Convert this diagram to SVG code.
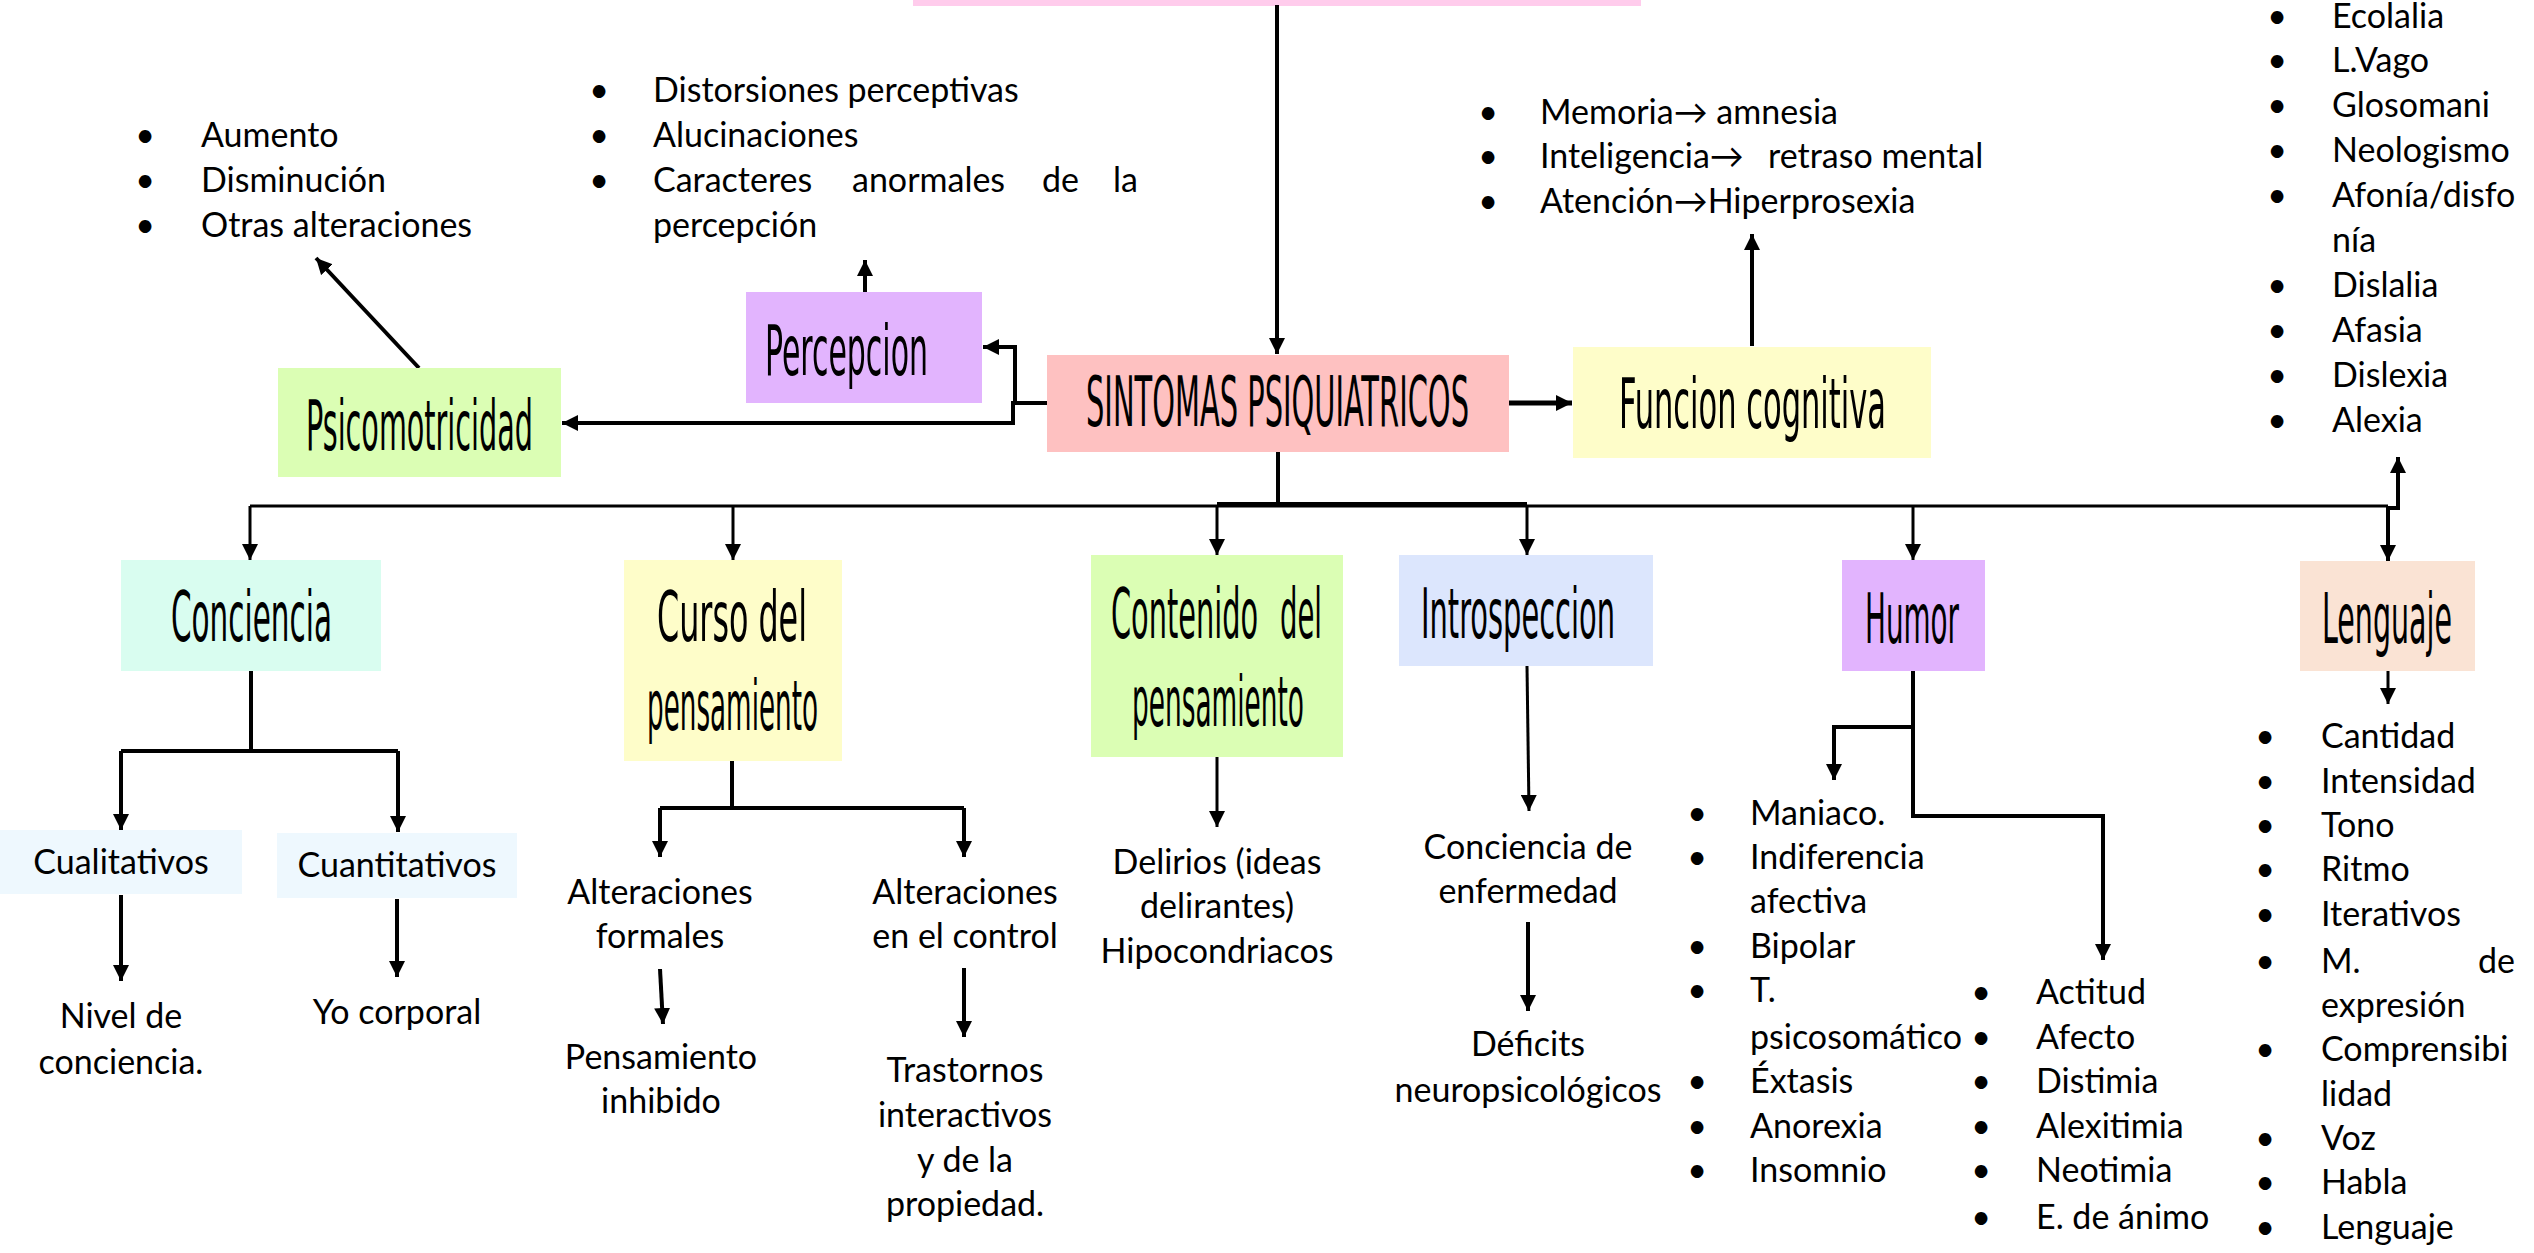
<svg xmlns="http://www.w3.org/2000/svg" width="2534" height="1253" viewBox="0 0 2534 1253">
<defs>
<style>
.t{font-family:Lato,"Open Sans","Liberation Sans",sans-serif;font-size:34px;fill:#000}
.m{text-anchor:middle}
.b{text-anchor:middle}
.h{font-family:"Liberation Sans Narrow","DejaVu Sans Condensed","Liberation Sans",sans-serif;font-size:70px;fill:#000}
.c{fill:none;stroke:#000;stroke-width:4}
.thin{stroke-width:3}
.thick{stroke-width:5}
</style>
<marker id="ah" viewBox="0 0 10 10" refX="10" refY="5" markerWidth="16" markerHeight="16" markerUnits="userSpaceOnUse" orient="auto">
<path d="M0,0 L10,5 L0,10 z" fill="#000"/>
</marker>
</defs>
<rect width="2534" height="1253" fill="#fff"/>

<g id="top">
<rect x="913" y="-10" width="728" height="16" fill="#FFCCEC"/>
</g>

<g id="connectors">
<path class="c" d="M1277,5 V354" marker-end="url(#ah)"/>
<path class="c thick" d="M1509,403 H1572" marker-end="url(#ah)"/>
<path class="c" d="M1752,346 V234" marker-end="url(#ah)"/>
<path class="c" d="M1047,403 H1015 V347 H983" marker-end="url(#ah)"/>
<path class="c" d="M1015,403 H1013 V423 H562" marker-end="url(#ah)"/>
<path class="c" d="M419,368 L316,258" marker-end="url(#ah)"/>
<path class="c" d="M865,292 V260" marker-end="url(#ah)"/>
<path class="c" d="M1278,452 V505"/>
<path class="c thin" d="M250,506 H2388"/>
<path class="c" d="M1217,504 H1527"/>
<path class="c thin" d="M250,506 V560" marker-end="url(#ah)"/>
<path class="c thin" d="M733,506 V560" marker-end="url(#ah)"/>
<path class="c thin" d="M1217,505 V555" marker-end="url(#ah)"/>
<path class="c thin" d="M1527,505 V555" marker-end="url(#ah)"/>
<path class="c thin" d="M1913,506 V560" marker-end="url(#ah)"/>
<path class="c" d="M2388,507 V561" marker-end="url(#ah)"/>
<path class="c" d="M2388,508 H2398 V457" marker-end="url(#ah)"/>
<path class="c" d="M251,671 V751"/>
<path class="c" d="M121,751 H398"/>
<path class="c" d="M121,751 V830" marker-end="url(#ah)"/>
<path class="c" d="M398,751 V832" marker-end="url(#ah)"/>
<path class="c" d="M121,895 V981" marker-end="url(#ah)"/>
<path class="c" d="M397,899 V977" marker-end="url(#ah)"/>
<path class="c" d="M732,761 V808"/>
<path class="c" d="M660,808 H964"/>
<path class="c" d="M660,808 V857" marker-end="url(#ah)"/>
<path class="c" d="M964,808 V857" marker-end="url(#ah)"/>
<path class="c" d="M660,969 L663,1024" marker-end="url(#ah)"/>
<path class="c" d="M964,968 V1037" marker-end="url(#ah)"/>
<path class="c thin" d="M1217,757 V827" marker-end="url(#ah)"/>
<path class="c thin" d="M1527,666 L1529,811" marker-end="url(#ah)"/>
<path class="c" d="M1528,922 V1011" marker-end="url(#ah)"/>
<path class="c" d="M1913,671 V816 H2103 V960" marker-end="url(#ah)"/>
<path class="c" d="M1913,727 H1834 V780" marker-end="url(#ah)"/>
<path class="c thin" d="M2388,671 V704" marker-end="url(#ah)"/>
</g>

<g id="sintomas">
<rect x="1047" y="355" width="462" height="97" fill="#FEC1C1"/>
<text class="h" x="1086" y="426" font-size="61" textLength="383" lengthAdjust="spacingAndGlyphs">SINTOMAS PSIQUIATRICOS</text>
</g>

<g id="psicomotricidad">
<rect x="278" y="368" width="283" height="109" fill="#DBFEB4"/>
<text class="h" x="306" y="450" textLength="227" lengthAdjust="spacingAndGlyphs">Psicomotricidad</text>
</g>
<g id="psicomotricidad-list">
<text class="t b" x="145" y="147">•</text><text class="t" x="201" y="147">Aumento</text>
<text class="t b" x="145" y="192">•</text><text class="t" x="201" y="192">Disminución</text>
<text class="t b" x="145" y="237">•</text><text class="t" x="201" y="237">Otras alteraciones</text>
</g>

<g id="percepcion">
<rect x="746" y="292" width="236" height="111" fill="#E2B4FE"/>
<text class="h" x="765" y="375" textLength="163" lengthAdjust="spacingAndGlyphs">Percepcion</text>
</g>
<g id="percepcion-list">
<text class="t b" x="599" y="102">•</text><text class="t" x="653" y="102">Distorsiones perceptivas</text>
<text class="t b" x="599" y="147">•</text><text class="t" x="653" y="147">Alucinaciones</text>
<text class="t b" x="599" y="192">•</text><text class="t" x="653" y="192">Caracteres</text><text class="t" x="852" y="192">anormales</text><text class="t" x="1042" y="192">de</text><text class="t" x="1113" y="192">la</text>
<text class="t" x="653" y="237">percepción</text>
</g>

<g id="funcion-cognitiva">
<rect x="1573" y="347" width="358" height="111" fill="#FEFDC9"/>
<text class="h" x="1619" y="428" textLength="267" lengthAdjust="spacingAndGlyphs">Funcion cognitiva</text>
</g>
<g id="funcion-list">
<text class="t b" x="1488" y="124">•</text><text class="t" x="1540" y="124">Memoria→ amnesia</text>
<text class="t b" x="1488" y="168">•</text><text class="t" x="1540" y="168">Inteligencia→</text><text class="t" x="1768" y="168">retraso mental</text>
<text class="t b" x="1488" y="213">•</text><text class="t" x="1540" y="213">Atención→Hiperprosexia</text>
</g>

<g id="lenguaje-top-list">
<text class="t b" x="2277" y="28">•</text><text class="t" x="2332" y="28">Ecolalia</text>
<text class="t b" x="2277" y="72">•</text><text class="t" x="2332" y="72">L.Vago</text>
<text class="t b" x="2277" y="117">•</text><text class="t" x="2332" y="117">Glosomani</text>
<text class="t b" x="2277" y="162">•</text><text class="t" x="2332" y="162">Neologismo</text>
<text class="t b" x="2277" y="207">•</text><text class="t" x="2332" y="207">Afonía/disfo</text>
<text class="t" x="2332" y="252">nía</text>
<text class="t b" x="2277" y="297">•</text><text class="t" x="2332" y="297">Dislalia</text>
<text class="t b" x="2277" y="342">•</text><text class="t" x="2332" y="342">Afasia</text>
<text class="t b" x="2277" y="387">•</text><text class="t" x="2332" y="387">Dislexia</text>
<text class="t b" x="2277" y="432">•</text><text class="t" x="2332" y="432">Alexia</text>
</g>

<g id="conciencia">
<rect x="121" y="560" width="260" height="111" fill="#D9FDF0"/>
<text class="h" x="171" y="641" textLength="161" lengthAdjust="spacingAndGlyphs">Conciencia</text>
</g>
<g id="cualitativos">
<rect x="0" y="830" width="242" height="64" fill="#EEF8FE"/>
<text class="t m" x="121" y="874">Cualitativos</text>
</g>
<g id="cuantitativos">
<rect x="277" y="833" width="240" height="65" fill="#EEF8FE"/>
<text class="t m" x="397" y="877">Cuantitativos</text>
</g>
<g id="nivel">
<text class="t m" x="121" y="1028">Nivel de</text>
<text class="t m" x="121" y="1074">conciencia.</text>
</g>
<g id="yo-corporal">
<text class="t m" x="397" y="1024">Yo corporal</text>
</g>

<g id="curso">
<rect x="624" y="560" width="218" height="201" fill="#FEFDC9"/>
<text class="h" x="657" y="641" textLength="150" lengthAdjust="spacingAndGlyphs">Curso del</text>
<text class="h" x="647" y="730" textLength="171" lengthAdjust="spacingAndGlyphs">pensamiento</text>
</g>
<g id="alt-formales">
<text class="t m" x="660" y="904">Alteraciones</text>
<text class="t m" x="660" y="948">formales</text>
</g>
<g id="alt-control">
<text class="t m" x="965" y="904">Alteraciones</text>
<text class="t m" x="965" y="948">en el control</text>
</g>
<g id="pensamiento-inhibido">
<text class="t m" x="661" y="1069">Pensamiento</text>
<text class="t m" x="661" y="1113">inhibido</text>
</g>
<g id="trastornos">
<text class="t m" x="965" y="1082">Trastornos</text>
<text class="t m" x="965" y="1127">interactivos</text>
<text class="t m" x="965" y="1172">y de la</text>
<text class="t m" x="965" y="1216">propiedad.</text>
</g>

<g id="contenido">
<rect x="1091" y="555" width="252" height="202" fill="#DBFEB4"/>
<text class="h" x="1111" y="638" textLength="147" lengthAdjust="spacingAndGlyphs">Contenido</text>
<text class="h" x="1280" y="638" textLength="42" lengthAdjust="spacingAndGlyphs">del</text>
<text class="h" x="1132" y="726" textLength="172" lengthAdjust="spacingAndGlyphs">pensamiento</text>
</g>
<g id="delirios">
<text class="t m" x="1217" y="874">Delirios (ideas</text>
<text class="t m" x="1217" y="918">delirantes)</text>
<text class="t m" x="1217" y="963">Hipocondriacos</text>
</g>

<g id="introspeccion">
<rect x="1399" y="555" width="254" height="111" fill="#DCE6FD"/>
<text class="h" x="1421" y="638" textLength="194" lengthAdjust="spacingAndGlyphs">Introspeccion</text>
</g>
<g id="conciencia-enfermedad">
<text class="t m" x="1528" y="859">Conciencia de</text>
<text class="t m" x="1528" y="903">enfermedad</text>
</g>
<g id="deficits">
<text class="t m" x="1528" y="1056">Déficits</text>
<text class="t m" x="1528" y="1102">neuropsicológicos</text>
</g>

<g id="humor">
<rect x="1842" y="560" width="143" height="111" fill="#E2B4FE"/>
<text class="h" x="1865" y="643" textLength="94" lengthAdjust="spacingAndGlyphs">Humor</text>
</g>
<g id="humor-list-1">
<text class="t b" x="1697" y="825">•</text><text class="t" x="1750" y="825">Maniaco.</text>
<text class="t b" x="1697" y="869">•</text><text class="t" x="1750" y="869">Indiferencia</text>
<text class="t" x="1750" y="913">afectiva</text>
<text class="t b" x="1697" y="958">•</text><text class="t" x="1750" y="958">Bipolar</text>
<text class="t b" x="1697" y="1002">•</text><text class="t" x="1750" y="1002">T.</text>
<text class="t" x="1750" y="1049">psicosomático</text>
<text class="t b" x="1697" y="1093">•</text><text class="t" x="1750" y="1093">Éxtasis</text>
<text class="t b" x="1697" y="1138">•</text><text class="t" x="1750" y="1138">Anorexia</text>
<text class="t b" x="1697" y="1182">•</text><text class="t" x="1750" y="1182">Insomnio</text>
</g>
<g id="humor-list-2">
<text class="t b" x="1981" y="1004">•</text><text class="t" x="2036" y="1004">Actitud</text>
<text class="t b" x="1981" y="1049">•</text><text class="t" x="2036" y="1049">Afecto</text>
<text class="t b" x="1981" y="1093">•</text><text class="t" x="2036" y="1093">Distimia</text>
<text class="t b" x="1981" y="1138">•</text><text class="t" x="2036" y="1138">Alexitimia</text>
<text class="t b" x="1981" y="1182">•</text><text class="t" x="2036" y="1182">Neotimia</text>
<text class="t b" x="1981" y="1229">•</text><text class="t" x="2036" y="1229">E. de ánimo</text>
</g>

<g id="lenguaje">
<rect x="2300" y="561" width="175" height="110" fill="#FAE3D4"/>
<text class="h" x="2322" y="643" textLength="130" lengthAdjust="spacingAndGlyphs">Lenguaje</text>
</g>
<g id="lenguaje-list">
<text class="t b" x="2265" y="748">•</text><text class="t" x="2321" y="748">Cantidad</text>
<text class="t b" x="2265" y="793">•</text><text class="t" x="2321" y="793">Intensidad</text>
<text class="t b" x="2265" y="837">•</text><text class="t" x="2321" y="837">Tono</text>
<text class="t b" x="2265" y="881">•</text><text class="t" x="2321" y="881">Ritmo</text>
<text class="t b" x="2265" y="926">•</text><text class="t" x="2321" y="926">Iterativos</text>
<text class="t b" x="2265" y="973">•</text><text class="t" x="2321" y="973">M.</text><text class="t" x="2515" y="973" text-anchor="end">de</text>
<text class="t" x="2321" y="1017">expresión</text>
<text class="t b" x="2265" y="1061">•</text><text class="t" x="2321" y="1061">Comprensibi</text>
<text class="t" x="2321" y="1106">lidad</text>
<text class="t b" x="2265" y="1150">•</text><text class="t" x="2321" y="1150">Voz</text>
<text class="t b" x="2265" y="1194">•</text><text class="t" x="2321" y="1194">Habla</text>
<text class="t b" x="2265" y="1239">•</text><text class="t" x="2321" y="1239">Lenguaje</text>
</g>
</svg>
